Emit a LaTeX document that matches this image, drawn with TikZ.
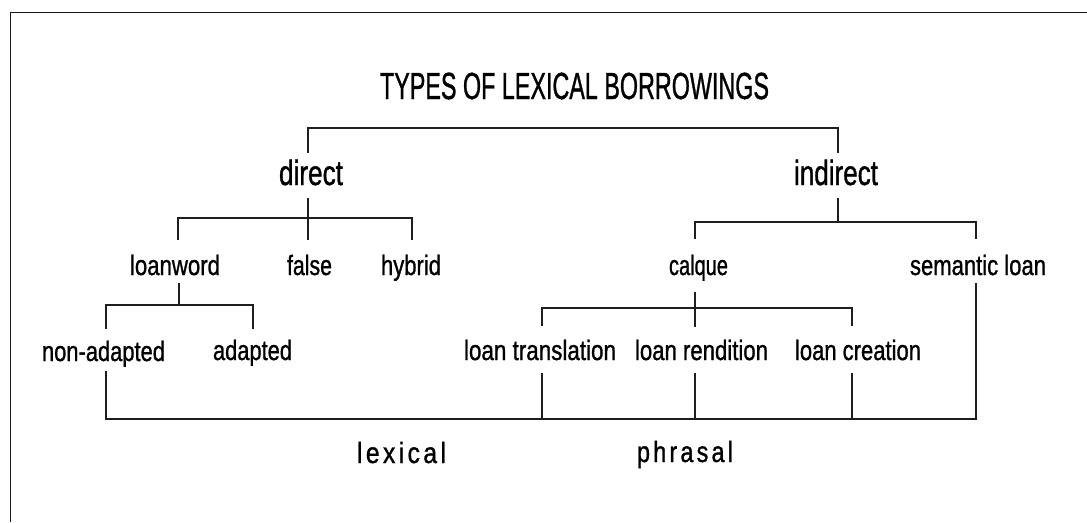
\documentclass[tikz,border=0pt]{standalone}
\usepackage{fontspec}
\setmainfont{Liberation Sans}[FakeBold=1.2]
\usepackage{graphicx}
\newdimen\pxu \pxu=0.75pt
\newcommand\fw[2]{\resizebox{#1\pxu}{\height}{#2}}
\newcommand\lsp{\kern3pt}
\begin{document}
\begin{tikzpicture}[x=0.75pt,y=-0.75pt,
  conn/.style={line width=1.1pt,draw=black!88},
  frame/.style={line width=1pt,draw=black!90},
  ttl/.style={anchor=base,inner sep=0pt,font=\fontsize{28.3}{30}\selectfont},
  lvA/.style={anchor=base,inner sep=0pt,font=\fontsize{26.2}{28}\selectfont},
  lvB/.style={anchor=base,inner sep=0pt,font=\fontsize{21}{23}\selectfont},
  lab/.style={anchor=base,inner sep=0pt,font=\fontsize{22}{24}\selectfont}]
\useasboundingbox (0,0) rectangle (1087,522);
\fill[white] (0,0) rectangle (1087,522);
% frame (top and left edges)
\coordinate (fbl) at (10.5,522);
\coordinate (ftl) at (10.5,12.5);
\coordinate (ftr) at (1087,12.5);
\draw[frame] (fbl) -- (ftl) -- (ftr);
% texts
\node[ttl] (title) at (574.5,99) {\fw{389}{TYPES OF LEXICAL BORROWINGS}};
\node[lvA] (direct) at (311,185) {\fw{64}{direct}};
\node[lvA] (indirect) at (836,185) {\fw{84}{indirect}};
\node[lvB] (loanword) at (175,275) {\fw{90}{loanword}};
\node[lvB] (false) at (309.5,275) {\fw{45}{false}};
\node[lvB] (hybrid) at (411,275) {\fw{60}{hybrid}};
\node[lvB] (calque) at (698.5,275) {\fw{59}{calque}};
\node[lvB] (semantic) at (978,275) {\fw{136}{semantic loan}};
\node[lvB] (nonadapted) at (103.5,361) {\fw{123}{non-adapted}};
\node[lvB] (adapted) at (252.5,360) {\fw{79}{adapted}};
\node[lvB] (ltrans) at (540,360) {\fw{152}{loan translation}};
\node[lvB] (lrend) at (701.5,360) {\fw{133}{loan rendition}};
\node[lvB] (lcreat) at (858,360) {\fw{126}{loan creation}};
\node[lab] (lexical) at (401.5,463) {\fw{89}{l\lsp e\lsp x\lsp i\lsp c\lsp a\lsp l}};
\node[lab] (phrasal) at (685,462) {\fw{96}{p\lsp h\lsp r\lsp a\lsp s\lsp a\lsp l}};
% connector end points
\coordinate (direct-n) at (308,153);
\coordinate (indirect-n) at (838,153);
\coordinate (topbar) at (573,128);
\coordinate (direct-s) at (308,198);
\coordinate (dbar) at (308,218);
\coordinate (false-n) at (308,240);
\coordinate (loanword-n) at (178,240);
\coordinate (hybrid-n) at (412,240);
\coordinate (loanword-s) at (179,283);
\coordinate (lbar) at (179,305);
\coordinate (nonadapted-n) at (106,329);
\coordinate (adapted-n) at (253,329);
\coordinate (indirect-s) at (838,198);
\coordinate (ibar) at (838,222);
\coordinate (calque-n) at (695,239);
\coordinate (semantic-n) at (976,239);
\coordinate (calque-s) at (695,292);
\coordinate (cbar) at (695,308);
\coordinate (lrend-n) at (695,327);
\coordinate (ltrans-n) at (542,326);
\coordinate (lcreat-n) at (852,326);
\coordinate (nonadapted-s) at (106,371);
\coordinate (semantic-s) at (976,283);
\coordinate (ltrans-s) at (542,373);
\coordinate (lrend-s) at (695,373);
\coordinate (lcreat-s) at (852,373);
\coordinate (basebar) at (541,419);
% connectors
\draw[conn] (direct-n) |- (topbar) -| (indirect-n);
\draw[conn] (direct-s) -- (false-n);
\draw[conn] (loanword-n) |- (dbar) -| (hybrid-n);
\draw[conn] (loanword-s) -- (lbar);
\draw[conn] (nonadapted-n) |- (lbar) -| (adapted-n);
\draw[conn] (indirect-s) -- (ibar);
\draw[conn] (calque-n) |- (ibar) -| (semantic-n);
\draw[conn] (calque-s) -- (lrend-n);
\draw[conn] (ltrans-n) |- (cbar) -| (lcreat-n);
\draw[conn] (nonadapted-s) |- (basebar) -| (semantic-s);
\draw[conn] (ltrans-s) -- (ltrans-s |- basebar);
\draw[conn] (lrend-s) -- (lrend-s |- basebar);
\draw[conn] (lcreat-s) -- (lcreat-s |- basebar);
\end{tikzpicture}
\end{document}
